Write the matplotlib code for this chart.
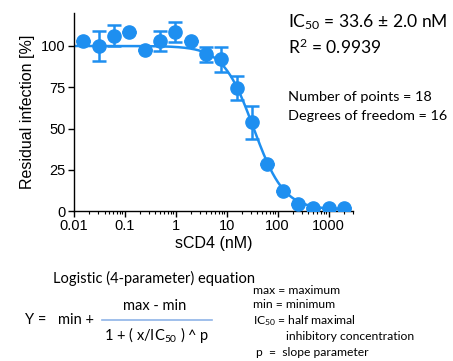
import numpy as np
import matplotlib
matplotlib.use('Agg')
import matplotlib.pyplot as plt
from matplotlib.ticker import LogLocator, FixedLocator, FixedFormatter, NullFormatter

# sCD4 serial dilution (nM) and residual infection (%)
conc = [0.0153, 0.0305, 0.061, 0.122, 0.244, 0.488, 0.977, 1.95, 3.9,
        7.8, 15.6, 31.25, 62.5, 125, 250, 500, 1000, 2000]
resid = [103.2, 100.0, 106.2, 108.3, 97.6, 103.0, 108.3, 103.0, 95.0,
         91.9, 74.5, 53.7, 28.5, 12.3, 4.4, 1.6, 1.6, 1.6]
err = [0, 9.3, 6.4, 0, 0, 6.3, 6.0, 0, 4.4,
       7.4, 7.5, 10.2, 0, 0, 0, 0, 0, 0]

# fit parameters (4PL)
fit_max = 100.0
fit_min = 0.8
fit_ic50 = 33.6
fit_p = 1.45

xticks = [0.01, 0.1, 1, 10, 100, 1000]
xticklabels = ['0.01', '0.1', '1', '10', '100', '1000']
yticks = [0, 25, 50, 75, 100]

blue = '#1e8ff0'
txt_font = 'Lato'

plt.rcParams['mathtext.fontset'] = 'custom'
plt.rcParams['mathtext.rm'] = txt_font
plt.rcParams['mathtext.it'] = txt_font

fig = plt.figure(figsize=(4.53, 3.61), dpi=100)
ax = fig.add_axes([0.163, 0.4155, 0.616, 0.5485])

xs = np.logspace(-2, np.log10(2000), 300)
ys = fit_min + (fit_max - fit_min) / (1 + (xs / fit_ic50) ** fit_p)
ax.plot(xs, ys, color=blue, lw=1.8, zorder=2)

ax.errorbar(conc, resid, yerr=err, fmt='o', color=blue, ms=9.5,
            elinewidth=1.8, capsize=5, capthick=1.8, zorder=3)

ax.set_xscale('log')
ax.set_xlim(0.01, 3000)
ax.set_ylim(0, 120)
ax.xaxis.set_major_locator(FixedLocator(xticks))
ax.xaxis.set_major_formatter(FixedFormatter(xticklabels))
ax.xaxis.set_minor_locator(LogLocator(base=10, subs=np.arange(2, 10), numticks=20))
ax.xaxis.set_minor_formatter(NullFormatter())
ax.set_yticks(yticks)
ax.spines['top'].set_visible(False)
ax.spines['right'].set_visible(False)
for s in ['left', 'bottom']:
    ax.spines[s].set_linewidth(1.0)
ax.tick_params(axis='both', which='major', length=4, width=1.0,
               labelsize=10.5, pad=2)
ax.tick_params(axis='x', which='minor', length=2, width=0.8)
for lbl in ax.get_xticklabels() + ax.get_yticklabels():
    lbl.set_family('Liberation Sans')
ax.set_xlabel('sCD4 (nM)', family='Liberation Sans', fontsize=11.5, labelpad=2)
ax.set_ylabel('Residual infection [%]', family='Liberation Sans', fontsize=11.5, labelpad=4)

# fit summary text
fig.text(288 / 453, 1 - 22 / 361, r'IC$_{50}$ = 33.6 ± 2.0 nM', family=txt_font,
         fontsize=12.6, va='center', ha='left')
fig.text(288 / 453, 1 - 47 / 361, r'R$^{2}$ = 0.9939', family=txt_font,
         fontsize=12.6, va='center', ha='left')
fig.text(288 / 453, 1 - 97 / 361, 'Number of points = 18', family=txt_font,
         fontsize=10.4, va='center', ha='left')
fig.text(288 / 453, 1 - 116 / 361, 'Degrees of freedom = 16', family=txt_font,
         fontsize=10.4, va='center', ha='left')

# equation block
fig.text(53 / 453, 1 - 278 / 361, 'Logistic (4-parameter) equation', family=txt_font,
         fontsize=10.5, va='center', ha='left')
fig.text(25 / 453, 1 - 320 / 361, 'Y =', family=txt_font, fontsize=10.5, va='center', ha='left')
fig.text(58 / 453, 1 - 320 / 361, 'min +', family=txt_font, fontsize=10.5, va='center', ha='left')
fig.text(155 / 453, 1 - 306 / 361, 'max - min', family=txt_font, fontsize=10.5,
         va='center', ha='center')
fig.add_artist(plt.Line2D([102 / 453, 212 / 453], [1 - 320 / 361, 1 - 320 / 361],
                          color='#8fb4e8', lw=1.2, transform=fig.transFigure))
fig.text(157 / 453, 1 - 335 / 361, r'1 + ( x/IC$_{50}$ ) ^ p', family=txt_font,
         fontsize=10.5, va='center', ha='center')

fig.text(253 / 453, 1 - 290 / 361, 'max = maximum', family=txt_font, fontsize=8.7,
         va='center', ha='left')
fig.text(253 / 453, 1 - 305 / 361, 'min = minimum', family=txt_font, fontsize=8.7,
         va='center', ha='left')
fig.text(253 / 453, 1 - 321 / 361, r'IC$_{50}$ = half maximal', family=txt_font,
         fontsize=8.7, va='center', ha='left')
fig.text(286 / 453, 1 - 337 / 361, 'inhibitory concentration', family=txt_font,
         fontsize=8.7, va='center', ha='left')
fig.text(256 / 453, 1 - 352 / 361, 'p  =  slope parameter', family=txt_font,
         fontsize=8.7, va='center', ha='left')

fig.savefig('out.png', dpi=100)
